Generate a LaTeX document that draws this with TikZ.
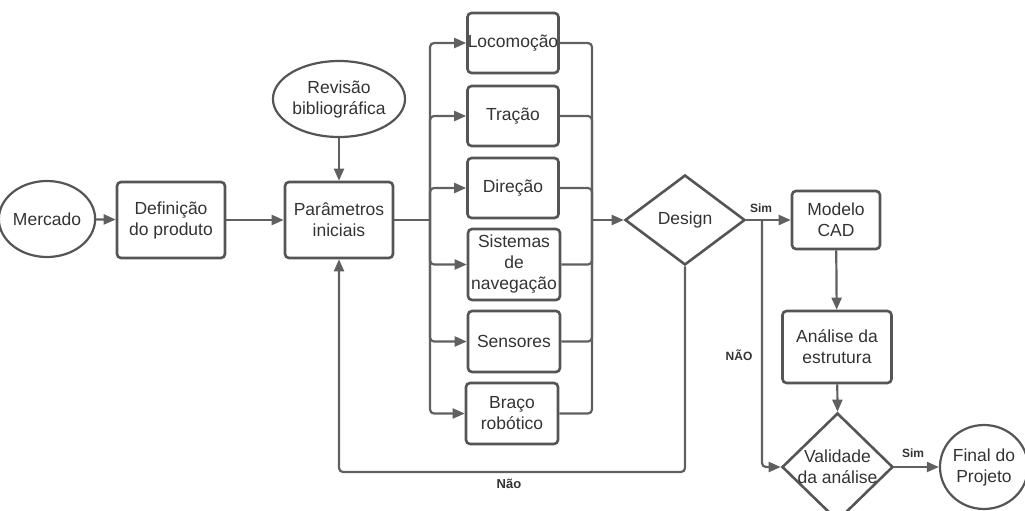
\documentclass[tikz,border=0pt]{standalone}
\usepackage{fontspec}
\setmainfont{Liberation Sans}
\usetikzlibrary{shapes.geometric,arrows.meta}
\definecolor{linec}{HTML}{606060}
\definecolor{boxc}{HTML}{555555}
\definecolor{textc}{HTML}{333333}
\tikzset{
  box/.style={draw=boxc, line width=2.6pt, rounded corners=4pt, align=center, text=textc, inner sep=0pt, font=\fontsize{17.5}{21}\selectfont},
  circ/.style={draw=boxc, line width=2.2pt, ellipse, align=center, text=textc, inner sep=0pt, font=\fontsize{17.5}{21}\selectfont},
  dia/.style={draw=boxc, line width=2.6pt, diamond, inner sep=0pt},
  txt/.style={align=center, text=textc, inner sep=0pt, font=\fontsize{17.5}{21}\selectfont},
  conn/.style={draw=linec, line width=2.2pt, rounded corners=4pt},
  arr/.style={conn, -{Triangle[length=12pt,width=10pt]}},
  lbl/.style={text=textc, font=\fontsize{12}{14}\selectfont\bfseries, inner sep=0pt}
}
\begin{document}
\begin{tikzpicture}[x=1pt,y=-1pt]
\useasboundingbox (0,0) rectangle (1025,511);
% nodes
\node[circ, minimum width=78pt, minimum height=76pt] (mer) at (47,219) {Mercado};
\node[box, minimum width=108pt, minimum height=76pt] (def) at (171,220) {Definição\\do produto};
\node[box, minimum width=108pt, minimum height=76pt] (par) at (339,220) {Parâmetros\\iniciais};
\node[circ, minimum width=106pt, minimum height=76pt] (rev) at (339,99) {Revisão\\bibliográfica};
\node[box, minimum width=91pt, minimum height=60pt] (loc) at (513,43) {Locomoção};
\node[box, minimum width=91pt, minimum height=60pt] (tra) at (513,116) {Tração};
\node[box, minimum width=91pt, minimum height=60pt] (dir) at (513,188) {Direção};
\node[box, minimum width=92pt, minimum height=71pt] (sis) at (514,264.5) {Sistemas\\de\\navegação};
\node[box, minimum width=92pt, minimum height=61pt] (sen) at (514,341.5) {Sensores};
\node[box, minimum width=92pt, minimum height=61pt] (bra) at (512,413.5) {Braço\\robótico};
\node[dia, minimum width=120pt, minimum height=90pt] (des) at (685,220) {};
\node[txt] (destxt) at (des.center) {Design};
\node[box, minimum width=88pt, minimum height=58pt] (cad) at (836,220) {Modelo\\CAD};
\node[box, minimum width=109pt, minimum height=72pt] (ana) at (837,347) {Análise da\\estrutura};
\node[dia, minimum width=111pt, minimum height=108pt] (val) at (837.5,467) {};
\node[txt] (valtxt) at (val.center) {Validade\\da análise};
\node[circ, minimum width=80pt, minimum height=84pt] (fim) at (984,467) {Final do\\Projeto};
% coordinates
\coordinate (busL) at (430,220);
\coordinate (busR) at (592,220);
\coordinate (busS) at (762,220);
\coordinate (nao) at (509,472);
% connectors
\draw[arr] (mer) -- (def);
\draw[arr] (def) -- (par);
\draw[arr] (rev) -- (par);
\draw[conn] (par.east) -- (busL);
\foreach \n in {loc,tra,dir,sis,sen,bra}{
  \draw[arr] (busL) |- (\n.west);
  \draw[conn] (\n.east) -| (busR);
}
\draw[arr] (busR) -- (des.west);
\draw[arr] (des.east) -- (cad.west);
\draw[arr] (busS) |- (val.west);
\draw[arr] (cad) -- (ana);
\draw[arr] (ana) -- (val.north);
\draw[arr] (val.east) -- (fim);
\draw[arr] (des.south) |- (nao) -| (par.south);
% labels
\node[lbl] (l1) at (761,208) {Sim};
\node[lbl] (l2) at (739,355) {NÃO};
\node[lbl] (l3) at (913,453) {Sim};
\node[lbl, font=\fontsize{13}{15}\selectfont\bfseries] (l4) at (509,484) {Não};
\end{tikzpicture}
\end{document}
